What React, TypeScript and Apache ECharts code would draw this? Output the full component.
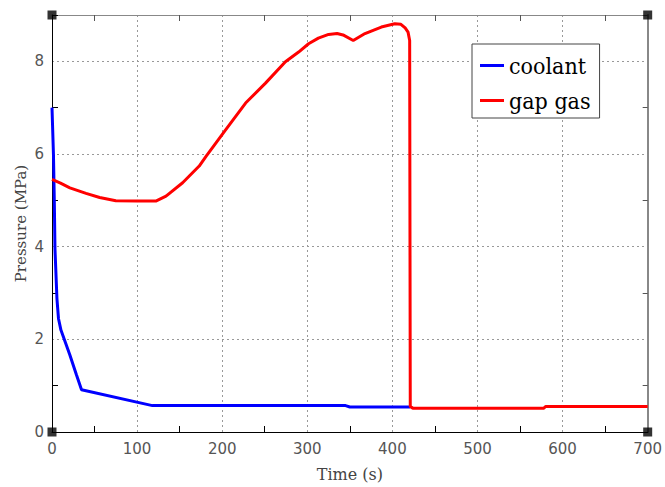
import React, { useEffect, useRef } from "react";
import * as echarts from "echarts";

// ---- data ----
const coolantTime = [0, 1.7, 2.7, 3.5, 5.8, 7.6, 10.5, 21, 28.8, 34.7, 118, 345, 350, 421];
const coolantPressure = [7.0, 6.0, 5.0, 3.95, 2.88, 2.45, 2.2, 1.66, 1.23, 0.91, 0.57, 0.57, 0.54, 0.54];

const gapTime = [
  0, 10, 21, 40, 56, 75, 100, 122, 134, 153.5, 173, 181, 204, 227.5, 250.9, 274.3, 289.8, 301.5,
  313, 325, 335, 342, 354, 367.8, 387, 402.8, 410, 415, 418.4, 420.3, 421, 424, 578, 580, 700,
];
const gapPressure = [
  5.45, 5.37, 5.27, 5.15, 5.06, 4.99, 4.985, 4.985, 5.09, 5.38, 5.74, 5.95, 6.52, 7.1, 7.53, 7.99, 8.2, 8.38,
  8.5, 8.58, 8.6, 8.57, 8.45, 8.6, 8.74, 8.81, 8.8, 8.72, 8.63, 8.45, 0.55, 0.515, 0.515, 0.55, 0.55,
];

const cornerTime = [0, 0, 700, 700];
const cornerPressure = [0, 9, 0, 9];

const xMin = 0;
const xMax = 700;
const xStep = 100;
const xMinorValues = [50, 150, 250, 350, 450, 550, 650];
const yMin = 0;
const yMax = 9;
const yStep = 2;
const yLabelValues = [0, 2, 4, 6, 8];
const yMinorValues = [1, 3, 5, 7, 9];

const seriesNames = ["coolant", "gap gas"];
const xTitle = "Time (s)";
const yTitle = "Pressure (MPa)";

const zip = (a: number[], b: number[]) => a.map((v, i) => [v, b[i]]);

export default function App() {
  const ref = useRef<HTMLDivElement>(null);

  useEffect(() => {
    if (!ref.current) return;
    const chart = echarts.init(ref.current, undefined, { renderer: "svg" });
    const tickFont = { fontFamily: "DejaVu Sans", fontSize: 15, color: "#555" };
    const nameFont = { fontFamily: "DejaVu Serif", fontSize: 15, color: "#444" };
    const gridStyle = { color: "#999", type: [2, 3] as any, width: 1 };
    const hidden = {
      axisLine: { show: false },
      axisTick: { show: false },
      minorTick: { show: false },
      axisLabel: { show: false },
      minorSplitLine: { show: false },
    };

    chart.setOption({
      animation: false,
      backgroundColor: "#fff",
      grid: { left: 52, right: 14, top: 15, bottom: 53, containLabel: false },
      legend: {
        data: seriesNames,
        orient: "vertical",
        left: 472,
        top: 44,
        padding: [10, 9, 6, 8],
        itemGap: 12,
        itemWidth: 24,
        itemHeight: 3,
        itemTextGap: 12,
        icon: "rect",
        backgroundColor: "#fff",
        borderColor: "#444",
        borderWidth: 1,
        borderRadius: 0,
        textStyle: {
          fontFamily: "DejaVu Serif Condensed",
          fontSize: 23,
          lineHeight: 22,
          color: "#000",
        },
      },
      xAxis: [
        {
          type: "value",
          min: xMin,
          max: xMax,
          interval: xStep,
          position: "bottom",
          name: xTitle,
          nameLocation: "middle",
          nameGap: 34,
          nameMoveOverlap: false,
          nameTextStyle: { ...nameFont, fontSize: 16 },
          axisLine: { show: true, onZero: false, lineStyle: { color: "#000", width: 1 } },
          axisTick: {
            show: true,
            inside: true,
            length: 6,
            customValues: xMinorValues,
            lineStyle: { color: "#000", width: 1 },
          },
          minorTick: { show: false },
          axisLabel: { ...tickFont, margin: 9 },
          splitLine: { show: false },
          minorSplitLine: { show: false },
        },
        {
          type: "value",
          min: xMin,
          max: xMax,
          interval: xStep,
          position: "top",
          axisLine: { show: true, onZero: false, lineStyle: { color: "#888", width: 1 } },
          axisTick: {
            show: true,
            inside: true,
            length: 6,
            customValues: xMinorValues,
            lineStyle: { color: "#555", width: 1 },
          },
          minorTick: { show: false },
          axisLabel: { show: false },
          splitLine: { show: false },
          minorSplitLine: { show: false },
        },
        {
          type: "value",
          min: xMin,
          max: xMax,
          interval: xStep,
          position: "bottom",
          ...hidden,
          splitLine: { show: true, lineStyle: gridStyle },
        },
      ],
      yAxis: [
        {
          type: "value",
          min: yMin,
          max: yMax,
          interval: yStep,
          position: "left",
          name: yTitle,
          nameLocation: "middle",
          nameGap: 24,
          nameMoveOverlap: false,
          nameRotate: 90,
          nameTextStyle: nameFont,
          axisLine: { show: true, onZero: false, lineStyle: { color: "#000", width: 1 } },
          axisTick: {
            show: true,
            inside: true,
            length: 6,
            customValues: yMinorValues,
            lineStyle: { color: "#000", width: 1 },
          },
          minorTick: { show: false },
          axisLabel: { ...tickFont, margin: 8, customValues: yLabelValues },
          splitLine: { show: false },
          minorSplitLine: { show: false },
        },
        {
          type: "value",
          min: yMin,
          max: yMax,
          interval: yStep,
          position: "right",
          axisLine: { show: true, onZero: false, lineStyle: { color: "#888", width: 2 } },
          axisTick: {
            show: true,
            inside: true,
            length: 5,
            customValues: yMinorValues,
            lineStyle: { color: "#555", width: 1 },
          },
          minorTick: { show: false },
          axisLabel: { show: false },
          splitLine: { show: false },
          minorSplitLine: { show: false },
        },
        {
          type: "value",
          min: yMin,
          max: yMax,
          interval: yStep,
          position: "left",
          ...hidden,
          splitLine: { show: true, lineStyle: gridStyle },
        },
      ],
      series: [
        {
          name: seriesNames[0],
          type: "line",
          xAxisIndex: 0,
          yAxisIndex: 0,
          data: zip(coolantTime, coolantPressure),
          showSymbol: false,
          symbol: "none",
          lineStyle: { color: "#0000ff", width: 3 },
          itemStyle: { color: "#0000ff" },
          z: 3,
        },
        {
          name: seriesNames[1],
          type: "line",
          xAxisIndex: 0,
          yAxisIndex: 0,
          data: zip(gapTime, gapPressure),
          showSymbol: false,
          symbol: "none",
          lineStyle: { color: "#ff0000", width: 3 },
          itemStyle: { color: "#ff0000" },
          z: 4,
        },
        {
          name: "corners",
          type: "scatter",
          xAxisIndex: 0,
          yAxisIndex: 0,
          data: zip(cornerTime, cornerPressure),
          symbol: "rect",
          symbolSize: 9,
          itemStyle: { color: "#000" },
          clip: false,
          silent: true,
          z: 10,
        },
      ],
    });

    return () => chart.dispose();
  }, []);

  return (
    <div
      ref={ref}
      style={{ position: "absolute", left: 0, top: 0, width: 665, height: 487 }}
    />
  );
}
